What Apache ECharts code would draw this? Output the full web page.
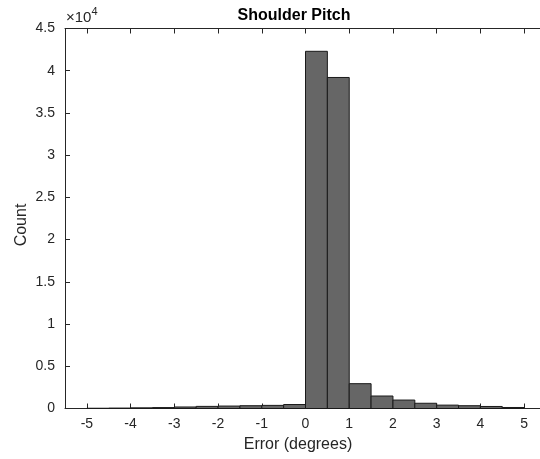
<!DOCTYPE html>
<html>
<head>
<meta charset="utf-8">
<script src="https://cdn.jsdelivr.net/npm/echarts@6/dist/echarts.min.js"></script>
<style>
  html, body { margin: 0; padding: 0; background: #fff; overflow: hidden; }
  /* plot box runs a little past the right edge of the picture, like the original */
  #chart { width: 546px; height: 459px; }
</style>
</head>
<body>
<div id="chart"></div>
<script>
// bin edges (degrees), bin width 0.5
var binEdges = [-5, -4.5, -4, -3.5, -3, -2.5, -2, -1.5, -1, -0.5, 0,
                0.5, 1, 1.5, 2, 2.5, 3, 3.5, 4, 4.5, 5];
// counts per bin
var binCounts = [30, 50, 80, 110, 180, 250, 290, 330, 370, 470,
                 42300, 39200, 2940, 1480, 1000, 620, 400, 330, 240, 120];
var xTicks = [-5, -4, -3, -2, -1, 0, 1, 2, 3, 4, 5];

var histData = [];
for (var i = 0; i < binCounts.length; i++) {
  histData.push([binEdges[i], binEdges[i + 1], binCounts[i]]);
}

var axisColor = '#262626';
var font = 'Liberation Sans, Arial, Helvetica, sans-serif';

var chart = echarts.init(document.getElementById('chart'));

var option = {
  animation: false,
  backgroundColor: '#fff',
  grid: { left: 65, top: 28.5, right: 0, bottom: 50.5, containLabel: false },
  xAxis: [{
    type: 'value',
    min: -5.5,
    max: 5.5,
    position: 'bottom',
    axisLine: { show: true, onZero: false, lineStyle: { color: axisColor, width: 1 } },
    axisTick: { show: true, inside: true, length: 5, customValues: xTicks, lineStyle: { color: axisColor } },
    axisLabel: { show: true, customValues: xTicks, color: axisColor, fontFamily: font, fontSize: 14, margin: 9 },
    splitLine: { show: false }
  }, {
    type: 'value',
    min: -5.5,
    max: 5.5,
    position: 'top',
    axisLine: { show: true, onZero: false, lineStyle: { color: axisColor, width: 1 } },
    axisTick: { show: true, inside: true, length: 5, customValues: xTicks, lineStyle: { color: axisColor } },
    axisLabel: { show: false },
    splitLine: { show: false }
  }],
  yAxis: {
    type: 'value',
    min: 0,
    max: 45000,
    interval: 5000,
    axisLine: { show: true, onZero: false, lineStyle: { color: axisColor, width: 1 } },
    axisTick: { show: true, inside: true, length: 5, lineStyle: { color: axisColor } },
    axisLabel: {
      color: axisColor, fontFamily: font, fontSize: 14, margin: 10,
      formatter: function (v) { return String(v / 10000); }
    },
    splitLine: { show: false }
  },
  series: [{
    type: 'custom',
    xAxisIndex: 0,
    data: histData,
    encode: { x: [0, 1], y: 2 },
    renderItem: function (params, api) {
      var p0 = api.coord([api.value(0), api.value(2)]);
      var p1 = api.coord([api.value(1), 0]);
      return {
        type: 'rect',
        shape: { x: p0[0], y: p0[1], width: p1[0] - p0[0], height: p1[1] - p0[1] },
        style: { fill: '#666666', stroke: '#1a1a1a', lineWidth: 1 }
      };
    }
  }],
  graphic: [
    {
      type: 'text', x: 294, y: 16,
      style: { text: 'Shoulder Pitch', fill: '#000', font: 'bold 16px ' + font, align: 'center', verticalAlign: 'middle' }
    },
    {
      type: 'text', x: 298, y: 445,
      style: { text: 'Error (degrees)', fill: axisColor, font: '16px ' + font, align: 'center', verticalAlign: 'middle' }
    },
    {
      type: 'text', x: 22, y: 225, rotation: Math.PI / 2,
      style: { text: 'Count', fill: axisColor, font: '16px ' + font, align: 'center', verticalAlign: 'middle' }
    },
    {
      type: 'text', x: 66, y: 6,
      style: {
        text: '{a|×10}{b|4}',
        rich: {
          a: { fontFamily: font, fontSize: 15, fill: axisColor, verticalAlign: 'bottom', lineHeight: 19 },
          b: { fontFamily: font, fontSize: 11, fill: axisColor, verticalAlign: 'top', lineHeight: 19 }
        }
      }
    }
  ]
};

chart.setOption(option);
</script>
</body>
</html>
